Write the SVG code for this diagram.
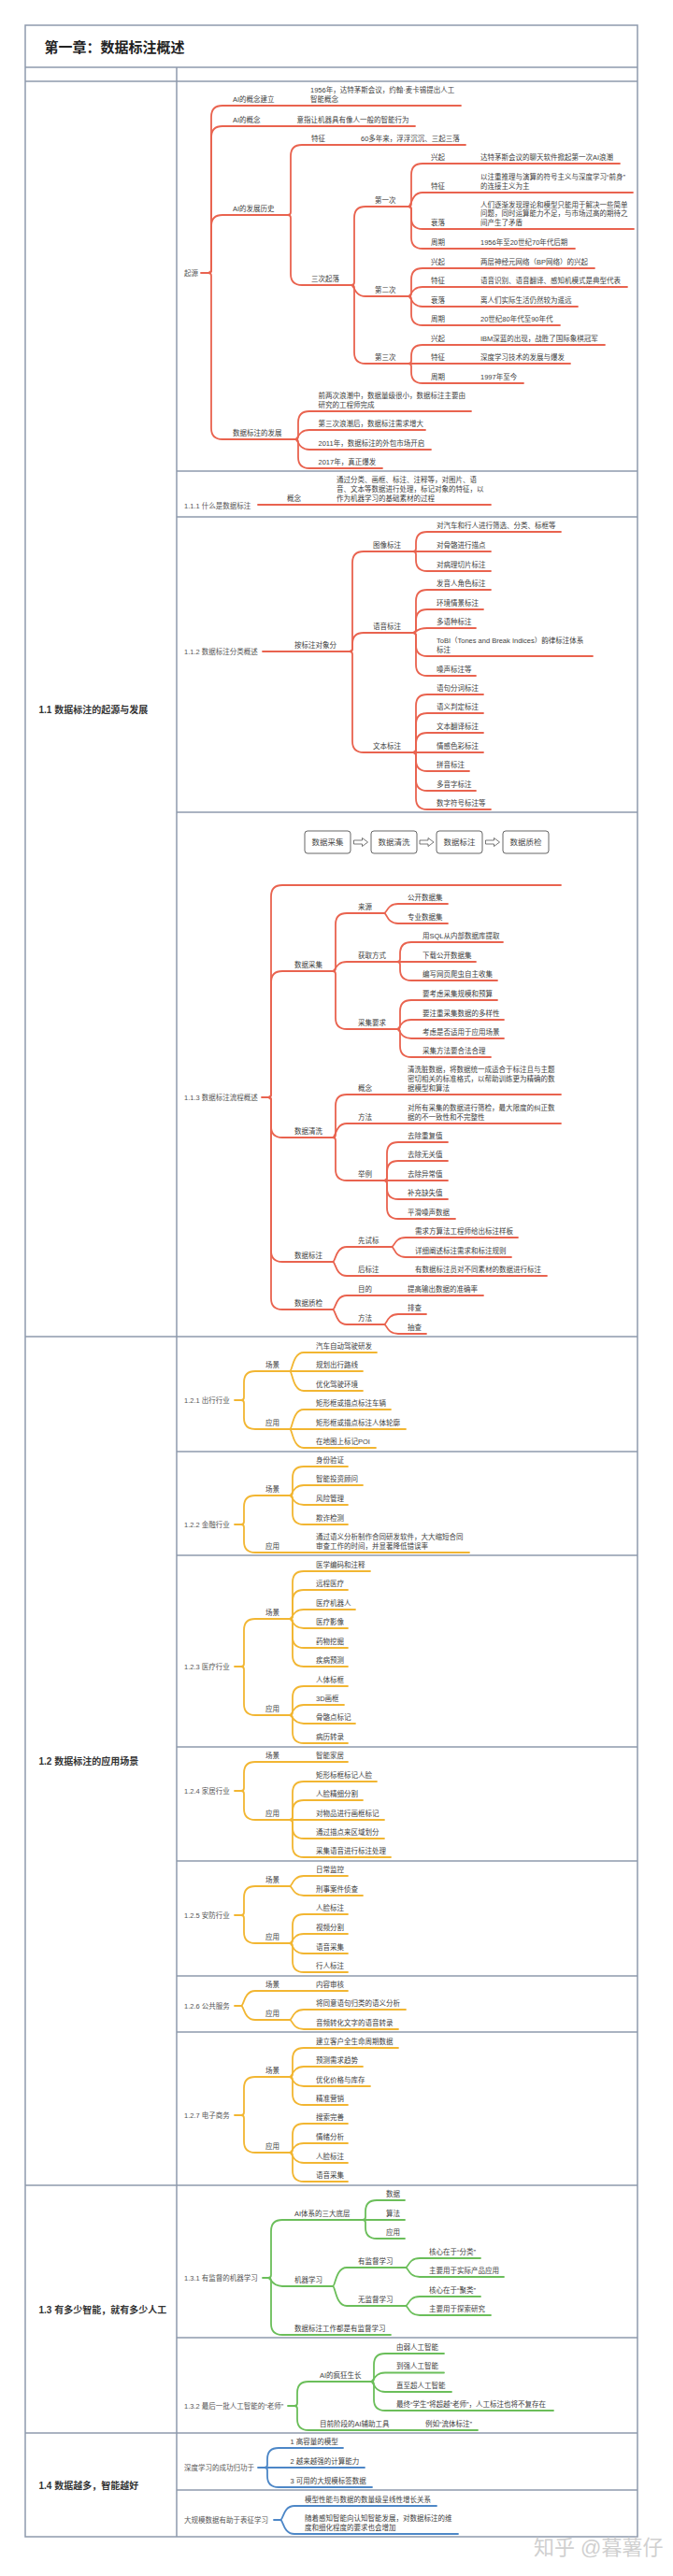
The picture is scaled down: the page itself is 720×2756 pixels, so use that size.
<svg xmlns="http://www.w3.org/2000/svg" width="720" height="2756" viewBox="0 0 720 2756">
<style>
text{font-family:"Liberation Sans","Noto Sans CJK SC",sans-serif}
.t{font-size:7.5px;fill:#404040}
.rt{font-size:7.5px;fill:#555}
.sec{font-size:10px;font-weight:700;fill:#333}
.ttl{font-size:15px;font-weight:700;fill:#222}
.bt{font-size:8.5px;fill:#444;text-anchor:middle}
.wm{font-size:22px;fill:#d0d0d0}
.grid{fill:none;stroke:#8E9AAD;stroke-width:1.5}
.bx{fill:#fff;stroke:#555;stroke-width:0.9}
.ar{fill:#fff;stroke:#555;stroke-width:0.8}
.c{fill:none;stroke-width:1.8;stroke-linecap:round;stroke-linejoin:round}
.r{stroke:#E9634F}.y{stroke:#F2B632}.g{stroke:#6BBE5A}.b{stroke:#4D87C7}
</style>
<defs><path id="arw" d="M0,-2H9V-4.5L15,0L9,4.5V2H0Z"/></defs>
<rect width="720" height="2756" fill="#fff"/>
<g id="table">
<rect class="grid" x="27" y="27" width="655" height="2687"/>
<path class="grid" d="M27 72H682M27 87H682M189 72V2714M27 1430H682M27 2338H682M27 2603H682M189 504H682M189 553H682M189 869H682M189 1553H682M189 1664H682M189 1869H682M189 1991H682M189 2114H682M189 2174H682M189 2501H682M189 2664H682"/>
</g>
<g id="title"><text class="ttl" x="47.5" y="55.5">第一章：数据标注概述</text></g>
<g id="sec11"><text class="sec" x="41.5" y="762.5">1.1 数据标注的起源与发展</text></g>
<g id="sec12"><text class="sec" x="41.5" y="1888">1.2 数据标注的应用场景</text></g>
<g id="sec13"><text class="sec" x="41.5" y="2475">1.3 有多少智能，就有多少人工</text></g>
<g id="sec14"><text class="sec" x="41.5" y="2662.5">1.4 数据越多，智能越好</text></g>

<g id="connectors">
<g class="c r">
<path d="M215 292H223"/>
<path d="M223 292Q226 292 226 289V125Q226 113 238 113H493"/>
<path d="M223 292Q226 292 226 289V147Q226 135 238 135H444"/>
<path d="M223 292Q226 292 226 289V242Q226 230 238 230H308"/>
<path d="M223 292Q226 292 226 295V458Q226 470 238 470H316"/>
<path d="M308 230Q311 230 311 227V167Q311 155 323 155H498"/>
<path d="M308 230Q311 230 311 233V293Q311 305 323 305H376"/>
<path d="M376 305Q379 305 379 302V233Q379 221 391 221H437"/>
<path d="M376 305C379 305 379 317 391 317H437"/>
<path d="M376 305Q379 305 379 308V377Q379 389 391 389H437"/>
<path d="M437 221Q440 221 440 218V187Q440 175 452 175H663"/>
<path d="M437 221C440 221 440 206 452 206H677"/>
<path d="M437 221Q440 221 440 224V233Q440 245 452 245H678"/>
<path d="M437 221Q440 221 440 224V254Q440 266 452 266H615"/>
<path d="M437 317Q440 317 440 314V299Q440 287 452 287H636"/>
<path d="M437 317C440 317 440 307 452 307H671"/>
<path d="M437 317C440 317 440 328 452 328H618"/>
<path d="M437 317Q440 317 440 320V336Q440 348 452 348H599"/>
<path d="M437 389Q440 389 440 386V381Q440 369 452 369H647"/>
<path d="M437 389H610"/>
<path d="M437 389Q440 389 440 392V398Q440 410 452 410H560"/>
<path d="M316 470Q319 470 319 467V452Q319 440 331 440H504"/>
<path d="M316 470C319 470 319 460 331 460H455"/>
<path d="M316 470C319 470 319 481 331 481H461"/>
<path d="M316 470Q319 470 319 473V489Q319 501 331 501H409"/>
<path d="M276 540H525"/>
<path d="M281 697H374"/>
<path d="M374 697Q377 697 377 694V602Q377 590 389 590H442"/>
<path d="M374 697Q377 697 377 694V689Q377 677 389 677H442"/>
<path d="M374 697Q377 697 377 700V793Q377 805 389 805H442"/>
<path d="M442 590Q445 590 445 587V581Q445 569 457 569H600"/>
<path d="M442 590H525"/>
<path d="M442 590Q445 590 445 593V599Q445 611 457 611H525"/>
<path d="M442 677Q445 677 445 674V643Q445 631 457 631H525"/>
<path d="M442 677Q445 677 445 674V664Q445 652 457 652H517"/>
<path d="M442 677C445 677 445 672 457 672H509"/>
<path d="M442 677Q445 677 445 680V690Q445 702 457 702H634"/>
<path d="M442 677Q445 677 445 680V711Q445 723 457 723H509"/>
<path d="M442 805Q445 805 445 802V755Q445 743 457 743H517"/>
<path d="M442 805Q445 805 445 802V775Q445 763 457 763H517"/>
<path d="M442 805Q445 805 445 802V796Q445 784 457 784H517"/>
<path d="M442 805H517"/>
<path d="M442 805Q445 805 445 808V813Q445 825 457 825H502"/>
<path d="M442 805Q445 805 445 808V834Q445 846 457 846H509"/>
<path d="M442 805Q445 805 445 808V854Q445 866 457 866H525"/>
<path d="M280 1174H287"/>
<path d="M287 1174Q290 1174 290 1171V959Q290 947 302 947H600"/>
<path d="M287 1174Q290 1174 290 1171V1051Q290 1039 302 1039H356"/>
<path d="M287 1174Q290 1174 290 1177V1205Q290 1217 302 1217H356"/>
<path d="M287 1174Q290 1174 290 1177V1338Q290 1350 302 1350H356"/>
<path d="M287 1174Q290 1174 290 1177V1389Q290 1401 302 1401H356"/>
<path d="M356 1039Q359 1039 359 1036V989Q359 977 371 977H411"/>
<path d="M356 1039C359 1039 359 1029 371 1029H425"/>
<path d="M356 1039Q359 1039 359 1042V1089Q359 1101 371 1101H425"/>
<path d="M411 977C414 977 414 967 426 967H479"/>
<path d="M411 977C414 977 414 988 426 988H479"/>
<path d="M425 1029Q428 1029 428 1026V1020Q428 1008 440 1008H538"/>
<path d="M425 1029H509"/>
<path d="M425 1029Q428 1029 428 1032V1037Q428 1049 440 1049H532"/>
<path d="M425 1101Q428 1101 428 1098V1082Q428 1070 440 1070H532"/>
<path d="M425 1101C428 1101 428 1091 440 1091H539"/>
<path d="M425 1101C428 1101 428 1111 440 1111H539"/>
<path d="M425 1101Q428 1101 428 1104V1119Q428 1131 440 1131H525"/>
<path d="M356 1217Q359 1217 359 1214V1183Q359 1171 371 1171H600"/>
<path d="M356 1217C359 1217 359 1202 371 1202H600"/>
<path d="M356 1217Q359 1217 359 1220V1251Q359 1263 371 1263H411"/>
<path d="M411 1263Q414 1263 414 1260V1234Q414 1222 426 1222H479"/>
<path d="M411 1263Q414 1263 414 1260V1254Q414 1242 426 1242H479"/>
<path d="M411 1263H479"/>
<path d="M411 1263Q414 1263 414 1266V1271Q414 1283 426 1283H479"/>
<path d="M411 1263Q414 1263 414 1266V1292Q414 1304 426 1304H487"/>
<path d="M356 1350C359 1350 359 1334 371 1334H419"/>
<path d="M356 1350C359 1350 359 1365 371 1365H585"/>
<path d="M419 1334C422 1334 422 1324 434 1324H554"/>
<path d="M419 1334C422 1334 422 1345 434 1345H547"/>
<path d="M356 1401C359 1401 359 1386 371 1386H517"/>
<path d="M356 1401C359 1401 359 1417 371 1417H411"/>
<path d="M411 1417C414 1417 414 1406 426 1406H456"/>
<path d="M411 1417C414 1417 414 1427 426 1427H456"/>
</g>
<g class="c y">
<path d="M251 1498H258"/>
<path d="M258 1498Q261 1498 261 1495V1479Q261 1467 273 1467H310"/>
<path d="M258 1498Q261 1498 261 1501V1517Q261 1529 273 1529H310"/>
<path d="M310 1467C313 1467 313 1447 325 1447H403"/>
<path d="M310 1467H388"/>
<path d="M310 1467C313 1467 313 1488 325 1488H388"/>
<path d="M310 1529C313 1529 313 1508 325 1508H418"/>
<path d="M310 1529H434"/>
<path d="M310 1529C313 1529 313 1549 325 1549H402"/>
<path d="M251 1631H258"/>
<path d="M258 1631Q261 1631 261 1628V1612Q261 1600 273 1600H310"/>
<path d="M258 1631Q261 1631 261 1634V1649Q261 1661 273 1661H502"/>
<path d="M310 1600Q313 1600 313 1597V1581Q313 1569 325 1569H372"/>
<path d="M310 1600C313 1600 313 1589 325 1589H388"/>
<path d="M310 1600C313 1600 313 1610 325 1610H372"/>
<path d="M310 1600Q313 1600 313 1603V1619Q313 1631 325 1631H372"/>
<path d="M251 1783H258"/>
<path d="M258 1783Q261 1783 261 1780V1744Q261 1732 273 1732H310"/>
<path d="M258 1783Q261 1783 261 1786V1823Q261 1835 273 1835H310"/>
<path d="M310 1732Q313 1732 313 1729V1693Q313 1681 325 1681H396"/>
<path d="M310 1732Q313 1732 313 1729V1713Q313 1701 325 1701H372"/>
<path d="M310 1732C313 1732 313 1722 325 1722H380"/>
<path d="M310 1732C313 1732 313 1742 325 1742H372"/>
<path d="M310 1732Q313 1732 313 1735V1751Q313 1763 325 1763H372"/>
<path d="M310 1732Q313 1732 313 1735V1771Q313 1783 325 1783H372"/>
<path d="M310 1835Q313 1835 313 1832V1816Q313 1804 325 1804H372"/>
<path d="M310 1835C313 1835 313 1824 325 1824H368"/>
<path d="M310 1835C313 1835 313 1844 325 1844H380"/>
<path d="M310 1835Q313 1835 313 1838V1853Q313 1865 325 1865H372"/>
<path d="M251 1916H258"/>
<path d="M258 1916Q261 1916 261 1913V1897Q261 1885 273 1885H372"/>
<path d="M258 1916Q261 1916 261 1919V1935Q261 1947 273 1947H310"/>
<path d="M310 1947Q313 1947 313 1944V1918Q313 1906 325 1906H403"/>
<path d="M310 1947Q313 1947 313 1944V1938Q313 1926 325 1926H388"/>
<path d="M310 1947H411"/>
<path d="M310 1947Q313 1947 313 1950V1955Q313 1967 325 1967H411"/>
<path d="M310 1947Q313 1947 313 1950V1975Q313 1987 325 1987H418"/>
<path d="M251 2049H258"/>
<path d="M258 2049Q261 2049 261 2046V2030Q261 2018 273 2018H310"/>
<path d="M258 2049Q261 2049 261 2052V2067Q261 2079 273 2079H310"/>
<path d="M310 2018C313 2018 313 2007 325 2007H372"/>
<path d="M310 2018C313 2018 313 2028 325 2028H388"/>
<path d="M310 2079Q313 2079 313 2076V2060Q313 2048 325 2048H372"/>
<path d="M310 2079C313 2079 313 2069 325 2069H372"/>
<path d="M310 2079C313 2079 313 2090 325 2090H372"/>
<path d="M310 2079Q313 2079 313 2082V2098Q313 2110 325 2110H372"/>
<path d="M251 2146H258"/>
<path d="M258 2146C261 2146 261 2130 273 2130H372"/>
<path d="M258 2146C261 2146 261 2161 273 2161H310"/>
<path d="M310 2161C313 2161 313 2150 325 2150H434"/>
<path d="M310 2161C313 2161 313 2171 325 2171H426"/>
<path d="M251 2263H258"/>
<path d="M258 2263Q261 2263 261 2260V2234Q261 2222 273 2222H310"/>
<path d="M258 2263Q261 2263 261 2266V2291Q261 2303 273 2303H310"/>
<path d="M310 2222Q313 2222 313 2219V2203Q313 2191 325 2191H426"/>
<path d="M310 2222C313 2222 313 2211 325 2211H388"/>
<path d="M310 2222C313 2222 313 2232 325 2232H396"/>
<path d="M310 2222Q313 2222 313 2225V2240Q313 2252 325 2252H372"/>
<path d="M310 2303Q313 2303 313 2300V2284Q313 2272 325 2272H372"/>
<path d="M310 2303C313 2303 313 2293 325 2293H372"/>
<path d="M310 2303C313 2303 313 2314 325 2314H372"/>
<path d="M310 2303Q313 2303 313 2306V2322Q313 2334 325 2334H372"/>
</g>
<g class="c g">
<path d="M281 2437H287"/>
<path d="M287 2437Q290 2437 290 2434V2387Q290 2375 302 2375H388"/>
<path d="M287 2437C290 2437 290 2446 302 2446H356"/>
<path d="M287 2437Q290 2437 290 2440V2486Q290 2498 302 2498H418"/>
<path d="M388 2375Q391 2375 391 2372V2366Q391 2354 403 2354H433"/>
<path d="M388 2375H433"/>
<path d="M388 2375Q391 2375 391 2378V2383Q391 2395 403 2395H433"/>
<path d="M356 2446C359 2446 359 2426 371 2426H434"/>
<path d="M356 2446C359 2446 359 2467 371 2467H434"/>
<path d="M434 2426C437 2426 437 2416 449 2416H514"/>
<path d="M434 2426C437 2426 437 2436 449 2436H539"/>
<path d="M434 2467C437 2467 437 2457 449 2457H514"/>
<path d="M434 2467C437 2467 437 2477 449 2477H525"/>
<path d="M308 2574H315"/>
<path d="M315 2574Q318 2574 318 2571V2560Q318 2548 330 2548H397"/>
<path d="M315 2574Q318 2574 318 2577V2588Q318 2600 330 2600H511"/>
<path d="M397 2548Q400 2548 400 2545V2530Q400 2518 412 2518H475"/>
<path d="M397 2548C400 2548 400 2538.5 412 2538.5H475"/>
<path d="M397 2548C400 2548 400 2559 412 2559H483"/>
<path d="M397 2548Q400 2548 400 2551V2567Q400 2579 412 2579H592"/>
</g>
<g class="c b">
<path d="M276 2640H283"/>
<path d="M283 2640Q286 2640 286 2637V2631Q286 2619 298 2619H367"/>
<path d="M283 2640H390"/>
<path d="M283 2640Q286 2640 286 2643V2649Q286 2661 298 2661H398"/>
<path d="M293 2696H300"/>
<path d="M300 2696C303 2696 303 2681 315 2681H467"/>
<path d="M300 2696C303 2696 303 2711 315 2711H490"/>
</g>
<g id="flow-arrows" class="ar">
<use href="#arw" x="378.5" y="901"/>
<use href="#arw" x="449" y="901"/>
<use href="#arw" x="519.5" y="901"/>
</g>
</g>

<g id="a0"><text class="rt" x="197" y="295">起源</text></g>
<g id="a1"><text class="t" x="249" y="108.5">AI的概念建立</text></g>
<g id="a1a"><text class="t"><tspan x="332" y="99">1956年，达特茅斯会议，约翰·麦卡锡提出人工</tspan><tspan x="332" y="108.5">智能概念</tspan></text></g>
<g id="a2"><text class="t" x="249" y="130.5">AI的概念</text></g>
<g id="a2a"><text class="t" x="317.5" y="130.5">意指让机器具有像人一般的智能行为</text></g>
<g id="a3"><text class="t" x="249" y="225.5">AI的发展历史</text></g>
<g id="a3a"><text class="t" x="333" y="150.5">特征</text></g>
<g id="a3a1"><text class="t" x="386" y="150.5">60多年来，浮浮沉沉、三起三落</text></g>
<g id="a3b"><text class="t" x="333" y="300.5">三次起落</text></g>
<g id="a3b1"><text class="t" x="401" y="216.5">第一次</text></g>
<g id="a3b1a"><text class="t" x="461" y="170.5">兴起</text></g>
<g id="a3b1a1"><text class="t" x="514" y="170.5">达特茅斯会议的聊天软件掀起第一次AI浪潮</text></g>
<g id="a3b1b"><text class="t" x="461" y="201.5">特征</text></g>
<g id="a3b1b1"><text class="t"><tspan x="514" y="192">以注重推理与演算的符号主义与深度学习“前身”</tspan><tspan x="514" y="201.5">的连接主义为主</tspan></text></g>
<g id="a3b1c"><text class="t" x="461" y="240.5">衰落</text></g>
<g id="a3b1c1"><text class="t"><tspan x="514" y="221.5">人们逐渐发现理论和模型只能用于解决一些简单</tspan><tspan x="514" y="231">问题，同时运算能力不足，与市场过高的期待之</tspan><tspan x="514" y="240.5">间产生了矛盾</tspan></text></g>
<g id="a3b1d"><text class="t" x="461" y="261.5">周期</text></g>
<g id="a3b1d1"><text class="t" x="514" y="261.5">1956年至20世纪70年代后期</text></g>
<g id="a3b2"><text class="t" x="401" y="312.5">第二次</text></g>
<g id="a3b2a"><text class="t" x="461" y="282.5">兴起</text></g>
<g id="a3b2a1"><text class="t" x="514" y="282.5">两层神经元网络（BP网络）的兴起</text></g>
<g id="a3b2b"><text class="t" x="461" y="302.5">特征</text></g>
<g id="a3b2b1"><text class="t" x="514" y="302.5">语音识别、语音翻译、感知机模式是典型代表</text></g>
<g id="a3b2c"><text class="t" x="461" y="323.5">衰落</text></g>
<g id="a3b2c1"><text class="t" x="514" y="323.5">离人们实际生活仍然较为遥远</text></g>
<g id="a3b2d"><text class="t" x="461" y="343.5">周期</text></g>
<g id="a3b2d1"><text class="t" x="514" y="343.5">20世纪80年代至90年代</text></g>
<g id="a3b3"><text class="t" x="401" y="384.5">第三次</text></g>
<g id="a3b3a"><text class="t" x="461" y="364.5">兴起</text></g>
<g id="a3b3a1"><text class="t" x="514" y="364.5">IBM深蓝的出现，战胜了国际象棋冠军</text></g>
<g id="a3b3b"><text class="t" x="461" y="384.5">特征</text></g>
<g id="a3b3b1"><text class="t" x="514" y="384.5">深度学习技术的发展与爆发</text></g>
<g id="a3b3c"><text class="t" x="461" y="405.5">周期</text></g>
<g id="a3b3c1"><text class="t" x="514" y="405.5">1997年至今</text></g>
<g id="a4"><text class="t" x="249" y="465.5">数据标注的发展</text></g>
<g id="a4a"><text class="t"><tspan x="340.5" y="426">前两次浪潮中，数据量级很小，数据标注主要由</tspan><tspan x="340.5" y="435.5">研究的工程师完成</tspan></text></g>
<g id="a4b"><text class="t" x="340.5" y="455.5">第三次浪潮后，数据标注需求增大</text></g>
<g id="a4c"><text class="t" x="340.5" y="476.5">2011年，数据标注的外包市场开启</text></g>
<g id="a4d"><text class="t" x="340.5" y="496.5">2017年，真正爆发</text></g>

<g id="b0"><text class="rt" x="197" y="543.5">1.1.1 什么是数据标注</text></g>
<g id="b1"><text class="t" x="307" y="535.5">概念</text></g>
<g id="b1a"><text class="t"><tspan x="360" y="515.5">通过分类、画框、标注、注释等，对图片、语</tspan><tspan x="360" y="525.5">音、文本等数据进行处理，标记对象的特征，以</tspan><tspan x="360" y="535.5">作为机器学习的基础素材的过程</tspan></text></g>

<g id="c0"><text class="rt" x="197" y="700">1.1.2 数据标注分类概述</text></g>
<g id="c1"><text class="t" x="315" y="692.5">按标注对象分</text></g>
<g id="c1a"><text class="t" x="399" y="585.5">图像标注</text></g>
<g id="c1a1"><text class="t" x="467" y="564.5">对汽车和行人进行筛选、分类、标框等</text></g>
<g id="c1a2"><text class="t" x="467" y="585.5">对骨骼进行描点</text></g>
<g id="c1a3"><text class="t" x="467" y="606.5">对病理切片标注</text></g>
<g id="c1b"><text class="t" x="399" y="672.5">语音标注</text></g>
<g id="c1b1"><text class="t" x="467" y="626.5">发音人角色标注</text></g>
<g id="c1b2"><text class="t" x="467" y="647.5">环境情景标注</text></g>
<g id="c1b3"><text class="t" x="467" y="667.5">多语种标注</text></g>
<g id="c1b4"><text class="t"><tspan x="467" y="688">ToBI（Tones and Break Indices）韵律标注体系</tspan><tspan x="467" y="697.5">标注</tspan></text></g>
<g id="c1b5"><text class="t" x="467" y="718.5">噪声标注等</text></g>
<g id="c1c"><text class="t" x="399" y="800.5">文本标注</text></g>
<g id="c1c1"><text class="t" x="467" y="738.5">语句分词标注</text></g>
<g id="c1c2"><text class="t" x="467" y="758.5">语义判定标注</text></g>
<g id="c1c3"><text class="t" x="467" y="779.5">文本翻译标注</text></g>
<g id="c1c4"><text class="t" x="467" y="800.5">情感色彩标注</text></g>
<g id="c1c5"><text class="t" x="467" y="820.5">拼音标注</text></g>
<g id="c1c6"><text class="t" x="467" y="841.5">多音字标注</text></g>
<g id="c1c7"><text class="t" x="467" y="861.5">数字符号标注等</text></g>

<g id="d-flow">
<g id="fb1"><rect class="bx" x="326" y="889" width="49" height="24" rx="3"/><text class="bt" x="350.5" y="904">数据采集</text></g>
<g id="fb2"><rect class="bx" x="397" y="889" width="49" height="24" rx="3"/><text class="bt" x="421.5" y="904">数据清洗</text></g>
<g id="fb3"><rect class="bx" x="467" y="889" width="49" height="24" rx="3"/><text class="bt" x="491.5" y="904">数据标注</text></g>
<g id="fb4"><rect class="bx" x="538" y="889" width="49" height="24" rx="3"/><text class="bt" x="562.5" y="904">数据质检</text></g>
</g>
<g id="d0"><text class="rt" x="197" y="1177">1.1.3 数据标注流程概述</text></g>
<g id="d1"><text class="t" x="315" y="1034.5">数据采集</text></g>
<g id="d1a"><text class="t" x="383" y="972.5">来源</text></g>
<g id="d1a1"><text class="t" x="436" y="962.5">公开数据集</text></g>
<g id="d1a2"><text class="t" x="436" y="983.5">专业数据集</text></g>
<g id="d1b"><text class="t" x="383" y="1024.5">获取方式</text></g>
<g id="d1b1"><text class="t" x="452" y="1003.5">用SQL从内部数据库提取</text></g>
<g id="d1b2"><text class="t" x="452" y="1024.5">下载公开数据集</text></g>
<g id="d1b3"><text class="t" x="452" y="1044.5">编写网页爬虫自主收集</text></g>
<g id="d1c"><text class="t" x="383" y="1096.5">采集要求</text></g>
<g id="d1c1"><text class="t" x="452" y="1065.5">要考虑采集规模和预算</text></g>
<g id="d1c2"><text class="t" x="452" y="1086.5">要注重采集数据的多样性</text></g>
<g id="d1c3"><text class="t" x="452" y="1106.5">考虑是否适用于应用场景</text></g>
<g id="d1c4"><text class="t" x="452" y="1126.5">采集方法要合法合理</text></g>
<g id="d2"><text class="t" x="315" y="1212.5">数据清洗</text></g>
<g id="d2a"><text class="t" x="383" y="1166.5">概念</text></g>
<g id="d2a1"><text class="t"><tspan x="436" y="1147">清洗脏数据，将数据统一成适合于标注且与主题</tspan><tspan x="436" y="1157">密切相关的标准格式，以帮助训练更为精确的数</tspan><tspan x="436" y="1166.5">据模型和算法</tspan></text></g>
<g id="d2b"><text class="t" x="383" y="1197.5">方法</text></g>
<g id="d2b1"><text class="t"><tspan x="436" y="1187.5">对所有采集的数据进行筛检，最大限度的纠正数</tspan><tspan x="436" y="1197.5">据的不一致性和不完整性</tspan></text></g>
<g id="d2c"><text class="t" x="383" y="1258.5">举例</text></g>
<g id="d2c1"><text class="t" x="436" y="1217.5">去除重复值</text></g>
<g id="d2c2"><text class="t" x="436" y="1237.5">去除无关值</text></g>
<g id="d2c3"><text class="t" x="436" y="1258.5">去除异常值</text></g>
<g id="d2c4"><text class="t" x="436" y="1278.5">补充缺失值</text></g>
<g id="d2c5"><text class="t" x="436" y="1299.5">平滑噪声数据</text></g>
<g id="d3"><text class="t" x="315" y="1345.5">数据标注</text></g>
<g id="d3a"><text class="t" x="383" y="1329.5">先试标</text></g>
<g id="d3a1"><text class="t" x="444" y="1319.5">需求方算法工程师给出标注样板</text></g>
<g id="d3a2"><text class="t" x="444" y="1340.5">详细阐述标注需求和标注规则</text></g>
<g id="d3b"><text class="t" x="383" y="1360.5">后标注</text></g>
<g id="d3b1"><text class="t" x="444" y="1360.5">有数据标注员对不同素材的数据进行标注</text></g>
<g id="d4"><text class="t" x="315" y="1396.5">数据质检</text></g>
<g id="d4a"><text class="t" x="383" y="1381.5">目的</text></g>
<g id="d4a1"><text class="t" x="436" y="1381.5">提高输出数据的准确率</text></g>
<g id="d4b"><text class="t" x="383" y="1412.5">方法</text></g>
<g id="d4b1"><text class="t" x="436" y="1401.5">排查</text></g>
<g id="d4b2"><text class="t" x="436" y="1422.5">抽查</text></g>

<g id="e0"><text class="rt" x="197" y="1501">1.2.1 出行行业</text></g>
<g id="e1"><text class="t" x="284" y="1462.5">场景</text></g>
<g id="e1a"><text class="t" x="338" y="1442.5">汽车自动驾驶研发</text></g>
<g id="e1b"><text class="t" x="338" y="1462.5">规划出行路线</text></g>
<g id="e1c"><text class="t" x="338" y="1483.5">优化驾驶环境</text></g>
<g id="e2"><text class="t" x="284" y="1524.5">应用</text></g>
<g id="e2a"><text class="t" x="338" y="1503.5">矩形框或描点标注车辆</text></g>
<g id="e2b"><text class="t" x="338" y="1524.5">矩形框或描点标注人体轮廓</text></g>
<g id="e2c"><text class="t" x="338" y="1544.5">在地图上标记POI</text></g>

<g id="f0"><text class="rt" x="197" y="1633.5">1.2.2 金融行业</text></g>
<g id="f1"><text class="t" x="284" y="1595.5">场景</text></g>
<g id="f1a"><text class="t" x="338" y="1564.5">身份验证</text></g>
<g id="f1b"><text class="t" x="338" y="1584.5">智能投资顾问</text></g>
<g id="f1c"><text class="t" x="338" y="1605.5">风险管理</text></g>
<g id="f1d"><text class="t" x="338" y="1626.5">欺诈检测</text></g>
<g id="f2"><text class="t" x="284" y="1656.5">应用</text></g>
<g id="f2a"><text class="t"><tspan x="338" y="1646.5">通过语义分析制作合同研发软件，大大缩短合同</tspan><tspan x="338" y="1656.5">审查工作的时间，并显著降低错误率</tspan></text></g>

<g id="g0"><text class="rt" x="197" y="1786">1.2.3 医疗行业</text></g>
<g id="g1"><text class="t" x="284" y="1727.5">场景</text></g>
<g id="g1a"><text class="t" x="338" y="1676.5">医学编码和注释</text></g>
<g id="g1b"><text class="t" x="338" y="1696.5">远程医疗</text></g>
<g id="g1c"><text class="t" x="338" y="1717.5">医疗机器人</text></g>
<g id="g1d"><text class="t" x="338" y="1737.5">医疗影像</text></g>
<g id="g1e"><text class="t" x="338" y="1758.5">药物挖掘</text></g>
<g id="g1f"><text class="t" x="338" y="1778.5">疾病预测</text></g>
<g id="g2"><text class="t" x="284" y="1830.5">应用</text></g>
<g id="g2a"><text class="t" x="338" y="1799.5">人体标框</text></g>
<g id="g2b"><text class="t" x="338" y="1819.5">3D画框</text></g>
<g id="g2c"><text class="t" x="338" y="1839.5">骨骼点标记</text></g>
<g id="g2d"><text class="t" x="338" y="1860.5">病历转录</text></g>

<g id="h0"><text class="rt" x="197" y="1919">1.2.4 家居行业</text></g>
<g id="h1"><text class="t" x="284" y="1880.5">场景</text></g>
<g id="h1a"><text class="t" x="338" y="1880.5">智能家居</text></g>
<g id="h2"><text class="t" x="284" y="1942.5">应用</text></g>
<g id="h2a"><text class="t" x="338" y="1901.5">矩形标框标记人脸</text></g>
<g id="h2b"><text class="t" x="338" y="1921.5">人脸精细分割</text></g>
<g id="h2c"><text class="t" x="338" y="1942.5">对物品进行画框标记</text></g>
<g id="h2d"><text class="t" x="338" y="1962.5">通过描点来区域划分</text></g>
<g id="h2e"><text class="t" x="338" y="1982.5">采集语音进行标注处理</text></g>

<g id="i0"><text class="rt" x="197" y="2052">1.2.5 安防行业</text></g>
<g id="i1"><text class="t" x="284" y="2013.5">场景</text></g>
<g id="i1a"><text class="t" x="338" y="2002.5">日常监控</text></g>
<g id="i1b"><text class="t" x="338" y="2023.5">刑事案件侦查</text></g>
<g id="i2"><text class="t" x="284" y="2074.5">应用</text></g>
<g id="i2a"><text class="t" x="338" y="2043.5">人脸标注</text></g>
<g id="i2b"><text class="t" x="338" y="2064.5">视频分割</text></g>
<g id="i2c"><text class="t" x="338" y="2085.5">语音采集</text></g>
<g id="i2d"><text class="t" x="338" y="2105.5">行人标注</text></g>

<g id="j0"><text class="rt" x="197" y="2148.5">1.2.6 公共服务</text></g>
<g id="j1"><text class="t" x="284" y="2125.5">场景</text></g>
<g id="j1a"><text class="t" x="338" y="2125.5">内容审核</text></g>
<g id="j2"><text class="t" x="284" y="2156.5">应用</text></g>
<g id="j2a"><text class="t" x="338" y="2145.5">将同意语句归类的语义分析</text></g>
<g id="j2b"><text class="t" x="338" y="2166.5">音频转化文字的语音转录</text></g>

<g id="k0"><text class="rt" x="197" y="2265.5">1.2.7 电子商务</text></g>
<g id="k1"><text class="t" x="284" y="2217.5">场景</text></g>
<g id="k1a"><text class="t" x="338" y="2186.5">建立客户全生命周期数据</text></g>
<g id="k1b"><text class="t" x="338" y="2206.5">预测需求趋势</text></g>
<g id="k1c"><text class="t" x="338" y="2227.5">优化价格与库存</text></g>
<g id="k1d"><text class="t" x="338" y="2247.5">精准营销</text></g>
<g id="k2"><text class="t" x="284" y="2298.5">应用</text></g>
<g id="k2a"><text class="t" x="338" y="2267.5">搜索完善</text></g>
<g id="k2b"><text class="t" x="338" y="2288.5">情绪分析</text></g>
<g id="k2c"><text class="t" x="338" y="2309.5">人脸标注</text></g>
<g id="k2d"><text class="t" x="338" y="2329.5">语音采集</text></g>

<g id="l0"><text class="rt" x="197" y="2439.5">1.3.1 有监督的机器学习</text></g>
<g id="l1"><text class="t" x="315" y="2370.5">AI体系的三大底层</text></g>
<g id="l1a"><text class="t" x="413" y="2349.5">数据</text></g>
<g id="l1b"><text class="t" x="413" y="2370.5">算法</text></g>
<g id="l1c"><text class="t" x="413" y="2390.5">应用</text></g>
<g id="l2"><text class="t" x="315" y="2441.5">机器学习</text></g>
<g id="l2a"><text class="t" x="383" y="2421.5">有监督学习</text></g>
<g id="l2a1"><text class="t" x="459" y="2411.5">核心在于“分类”</text></g>
<g id="l2a2"><text class="t" x="459" y="2431.5">主要用于实际产品应用</text></g>
<g id="l2b"><text class="t" x="383" y="2462.5">无监督学习</text></g>
<g id="l2b1"><text class="t" x="459" y="2452.5">核心在于“聚类”</text></g>
<g id="l2b2"><text class="t" x="459" y="2472.5">主要用于探索研究</text></g>
<g id="l3"><text class="t" x="315" y="2493.5">数据标注工作都是有监督学习</text></g>

<g id="m0"><text class="rt" x="197" y="2577">1.3.2 最后一批人工智能的“老师”</text></g>
<g id="m1"><text class="t" x="342" y="2543.5">AI的疯狂生长</text></g>
<g id="m1a"><text class="t" x="424" y="2513.5">由弱人工智能</text></g>
<g id="m1b"><text class="t" x="424" y="2534">到强人工智能</text></g>
<g id="m1c"><text class="t" x="424" y="2554.5">直至超人工智能</text></g>
<g id="m1d"><text class="t" x="424" y="2574.5">最终“学生”将超越“老师”，人工标注也将不复存在</text></g>
<g id="m2"><text class="t" x="342" y="2595.5">目前阶段的AI辅助工具</text></g>
<g id="m2a"><text class="t" x="455" y="2595.5">例如“流体标注”</text></g>

<g id="o0"><text class="rt" x="197" y="2643">深度学习的成功归功于</text></g>
<g id="o1"><text class="t" x="310.5" y="2614.5">1 高容量的模型</text></g>
<g id="o2"><text class="t" x="310.5" y="2635.5">2 越来越强的计算能力</text></g>
<g id="o3"><text class="t" x="310.5" y="2656.5">3 可用的大规模标签数据</text></g>
<g id="p0"><text class="rt" x="197" y="2698.5">大规模数据有助于表征学习</text></g>
<g id="p1"><text class="t" x="326" y="2676.5">模型性能与数据的数量级呈线性增长关系</text></g>
<g id="p2"><text class="t"><tspan x="326" y="2697">随着感知智能向认知智能发展，对数据标注的维</tspan><tspan x="326" y="2706.5">度和细化程度的要求也会增加</tspan></text></g>

<g id="watermark"><text class="wm" x="571" y="2733">知乎 @暮薯仔</text></g>
</svg>
